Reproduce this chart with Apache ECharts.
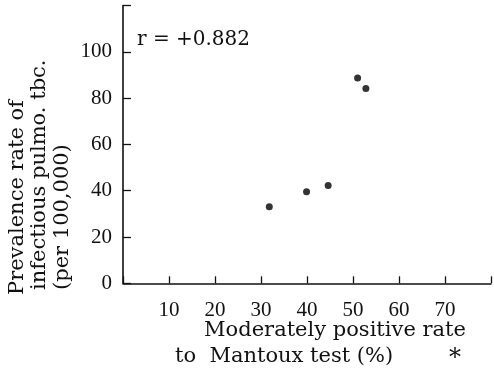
<!DOCTYPE html>
<html lang="en">
<head>
    <meta charset="utf-8" />
    <title>ECharts</title>
    <script src="https://cdn.jsdelivr.net/npm/echarts@6/dist/echarts.min.js"></script>
</head>
<body style="margin:0;background:#fff;">
<div id="main" style="width: 494px;height:368px;"></div>
<script type="text/javascript">
    // 读图得到的数据
    var mantouxRate = [31.8, 39.9, 44.6, 51.0, 52.8];
    var prevalence = [33.1, 39.6, 42.3, 88.7, 84.2];
    var xTicks = [10, 20, 30, 40, 50, 60, 70];
    var yTicks = [0, 20, 40, 60, 80, 100];
    var rText = 'r = +0.882';
    var yNameLines = ['Prevalence rate of', 'infectious pulmo. tbc.', '(per 100,000)'];
    var xNameLines = ['Moderately positive rate', 'to  Mantoux test (%)'];

    var serif = '"Liberation Serif", "DejaVu Serif", serif';
    var wideSerif = '"DejaVu Serif", serif';
    var ink = '#111';

    var points = mantouxRate.map(function (x, i) { return [x, prevalence[i]]; });

    var myChart = echarts.init(document.getElementById('main'));

    var option = {
      animation: false,
      backgroundColor: '#fff',
      grid: { left: 123, right: -3, top: 5.5, bottom: 84.7 },
      xAxis: {
        type: 'value',
        min: 0,
        max: 80,
        interval: 10,
        splitLine: { show: false },
        axisLine: { lineStyle: { color: ink, width: 1.6 } },
        axisTick: { inside: true, length: 7, lineStyle: { color: ink, width: 1.3 } },
        axisLabel: {
          margin: 17,
          color: ink,
          fontFamily: serif,
          fontSize: 21,
          formatter: function (v) { return xTicks.indexOf(v) >= 0 ? v : ''; }
        }
      },
      yAxis: {
        type: 'value',
        min: 0,
        max: 120,
        interval: 20,
        splitLine: { show: false },
        axisLine: { lineStyle: { color: ink, width: 1.6 } },
        axisTick: { inside: true, length: 8, lineStyle: { color: ink, width: 1.3 } },
        axisLabel: {
          margin: 11,
          color: ink,
          fontFamily: serif,
          fontSize: 21,
          formatter: function (v) { return yTicks.indexOf(v) >= 0 ? v : ''; }
        }
      },
      graphic: [
        {
          type: 'text', x: 137, y: 40,
          style: { text: rText, font: '20px ' + wideSerif, fill: ink, textVerticalAlign: 'middle' }
        },
        {
          type: 'text', x: 18, y: 295, rotation: Math.PI / 2,
          style: { text: yNameLines[0], font: '21px ' + wideSerif, fill: ink, textAlign: 'left', textVerticalAlign: 'middle' }
        },
        {
          type: 'text', x: 40, y: 290, rotation: Math.PI / 2,
          style: { text: yNameLines[1], font: '21px ' + wideSerif, fill: ink, textAlign: 'left', textVerticalAlign: 'middle' }
        },
        {
          type: 'text', x: 63, y: 290, rotation: Math.PI / 2,
          style: { text: yNameLines[2], font: '21px ' + wideSerif, fill: ink, textAlign: 'left', textVerticalAlign: 'middle' }
        },
        {
          type: 'text', x: 335, y: 331,
          style: { text: xNameLines[0], font: '21px ' + wideSerif, fill: ink, textAlign: 'center', textVerticalAlign: 'middle' }
        },
        {
          type: 'text', x: 175, y: 357,
          style: { text: xNameLines[1], font: '21px ' + wideSerif, fill: ink, textAlign: 'left', textVerticalAlign: 'middle' }
        },
        {
          type: 'text', x: 455, y: 359,
          style: { text: '*', font: '24px ' + wideSerif, fill: ink, textAlign: 'center', textVerticalAlign: 'middle' }
        }
      ],
      series: [
        {
          type: 'scatter',
          data: points,
          symbolSize: 7,
          itemStyle: { color: '#000' }
        }
      ]
    };
    myChart.setOption(option);
</script>
</body>
</html>
